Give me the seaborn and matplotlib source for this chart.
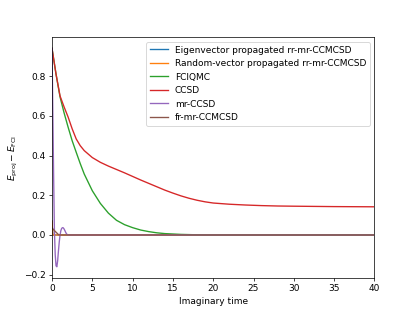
import numpy as np
import pandas as pd
import matplotlib
matplotlib.use("Agg")
import matplotlib.pyplot as plt
import seaborn as sns

# Imaginary time grids
t_fast = [0, 0.1, 0.2, 0.3, 0.4, 0.5, 0.6, 0.7, 0.8, 0.9, 1.0, 1.1, 1.2, 1.3, 1.4,
          1.5, 1.6, 1.7, 1.8, 1.9, 2.0, 2.5, 3, 5, 10, 20, 30, 40]
t_slow = [0, 0.5, 1, 1.5, 2, 2.5, 3, 3.5, 4, 5, 6, 7, 8, 9, 10, 11, 12, 13, 14,
          15, 16, 17, 18, 19, 20, 22, 24, 26, 28, 30, 35, 40]

# Energy error E_proj - E_FCI
eig_rr = [0.07, 0.0, 0.0, 0.0, 0.0, 0.0, 0.0, 0.0, 0.0, 0.0, 0.0, 0.0, 0.0, 0.0, 0.0,
          0.0, 0.0, 0.0, 0.0, 0.0, 0.0, 0.0, 0.0, 0.0, 0.0, 0.0, 0.0, 0.0]
rand_rr = [0.07, 0.0, 0.0, 0.0, 0.0, 0.0, 0.0, 0.0, 0.0, 0.0, 0.0, 0.0, 0.0, 0.0, 0.0,
           0.0, 0.0, 0.0, 0.0, 0.0, 0.0, 0.0, 0.0, 0.0, 0.0, 0.0, 0.0, 0.0]
mr_ccsd = [0.94, 0.62, 0.3, 0.02, -0.1, -0.155, -0.16, -0.13, -0.08, -0.035, 0.0, 0.022,
           0.033, 0.037, 0.036, 0.03, 0.022, 0.013, 0.006, 0.002, 0.0, 0.0, 0.0, 0.0,
           0.0, 0.0, 0.0, 0.0]
fr_mr = [0.035, 0.031, 0.027, 0.022, 0.018, 0.014, 0.01, 0.006, 0.002, 0.0, 0.0, 0.0,
         0.0, 0.0, 0.0, 0.0, 0.0, 0.0, 0.0, 0.0, 0.0, 0.0, 0.0, 0.0, 0.0, 0.0, 0.0, 0.0]
fciqmc = [0.94, 0.81, 0.695, 0.615, 0.543, 0.475, 0.417, 0.36, 0.307, 0.223, 0.159, 0.11,
          0.074, 0.052, 0.037, 0.025, 0.017, 0.011, 0.007, 0.005, 0.003, 0.002, 0.001,
          0.0, 0.0, 0.0, 0.0, 0.0, 0.0, 0.0, 0.0, 0.0]
ccsd = [0.94, 0.81, 0.70, 0.645, 0.594, 0.535, 0.484, 0.45, 0.425, 0.39, 0.366, 0.347,
        0.330, 0.313, 0.295, 0.277, 0.26, 0.243, 0.226, 0.211, 0.197, 0.185, 0.175,
        0.167, 0.161, 0.155, 0.151, 0.148, 0.146, 0.145, 0.143, 0.142]

labels = ["Eigenvector propagated rr-mr-CCMCSD", "Random-vector propagated rr-mr-CCMCSD",
          "FCIQMC", "CCSD", "mr-CCSD", "fr-mr-CCMCSD"]

series = [(t_fast, eig_rr), (t_fast, rand_rr), (t_slow, fciqmc), (t_slow, ccsd),
          (t_fast, mr_ccsd), (t_fast, fr_mr)]
colors = sns.color_palette("tab10")

fig, ax = plt.subplots(figsize=(6.4, 4.8), dpi=65)
for i, ((t, y), lab) in enumerate(zip(series, labels)):
    df = pd.DataFrame({"t": t, "e": y})
    sns.lineplot(data=df, x="t", y="e", ax=ax, color=colors[i], label=lab,
                 linewidth=1.5, sort=False)

ax.set_xlim(0, 40)
ax.set_xlabel("Imaginary time")
ax.set_ylabel(r"$E_{\rm proj} - E_{\rm FCI}$")
ax.legend(loc="upper right")

fig.savefig("out.png", dpi=65)
